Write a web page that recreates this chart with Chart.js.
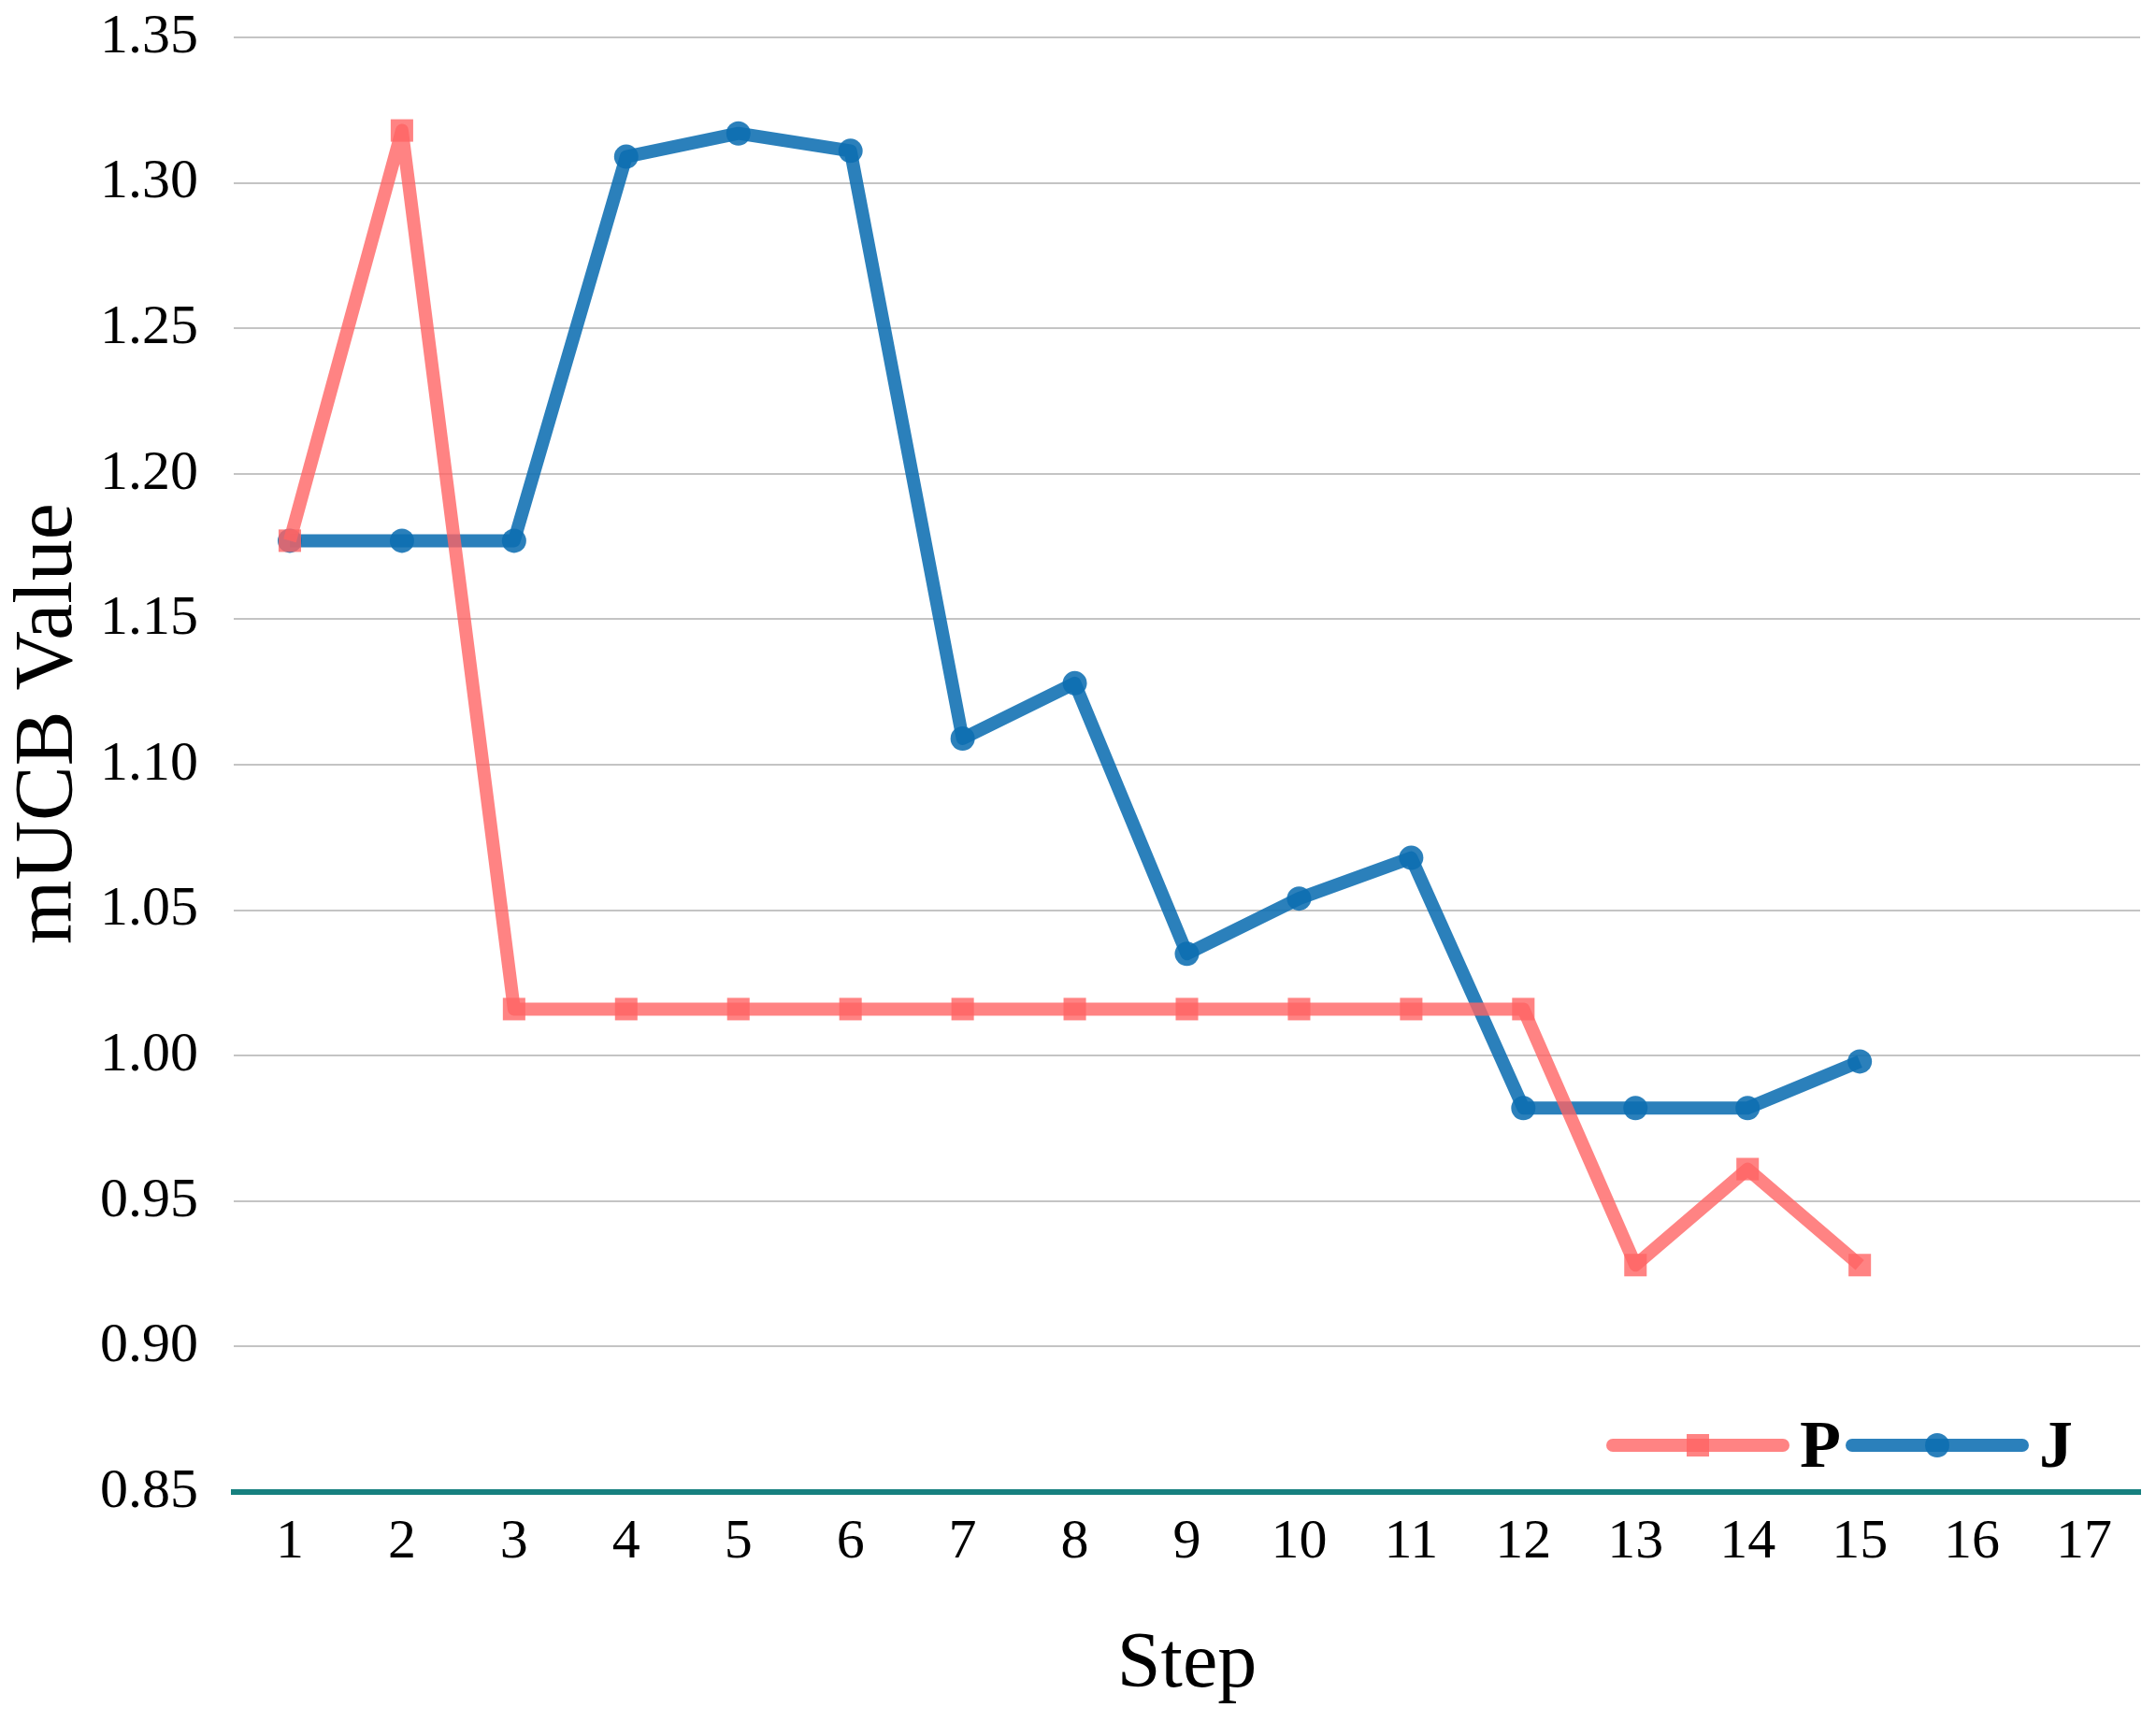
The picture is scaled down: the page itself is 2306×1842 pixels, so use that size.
<!DOCTYPE html>
<html>
<head>
<meta charset="utf-8">
<script src="https://cdn.jsdelivr.net/npm/chart.js@4/dist/chart.umd.min.js"></script>
<style>
  html, body { margin: 0; padding: 0; background: #fff; }
  #wrap { width: 2306px; height: 1842px; }
</style>
</head>
<body>
<div id="wrap"><canvas id="chart"></canvas></div>
<script>
var steps = ["1", "2", "3", "4", "5", "6", "7", "8", "9", "10", "11", "12", "13", "14", "15", "16", "17"];
var pValues = [1.177, 1.318, 1.016, 1.016, 1.016, 1.016, 1.016, 1.016, 1.016, 1.016, 1.016, 1.016, 0.928, 0.961, 0.928];
var jValues = [1.177, 1.177, 1.177, 1.309, 1.317, 1.311, 1.109, 1.128, 1.035, 1.054, 1.068, 0.982, 0.982, 0.982, 0.998];
var yTicks = [0.85, 0.90, 0.95, 1.00, 1.05, 1.10, 1.15, 1.20, 1.25, 1.30, 1.35];

var serif = '"Liberation Serif", "Times New Roman", serif';
var pLine = "rgba(255, 100, 100, 0.8)";
var jLine = "rgba(14, 110, 178, 0.88)";

// legend drawn inside the plot, bottom right, Excel style (line + marker + label)
var insideLegend = {
  id: "insideLegend",
  afterDraw: function (chart) {
    var ctx = chart.ctx;
    var area = chart.chartArea;
    var y = area.bottom - 50;
    var items = [
      { x: area.right - 564, label: "P", ds: 0 },
      { x: area.right - 308, label: "J", ds: 1 }
    ];
    ctx.save();
    items.forEach(function (it) {
      var ds = chart.data.datasets[it.ds];
      ctx.strokeStyle = ds.borderColor;
      ctx.lineWidth = 14;
      ctx.lineCap = "round";
      ctx.beginPath();
      ctx.moveTo(it.x, y);
      ctx.lineTo(it.x + 182, y);
      ctx.stroke();
      ctx.fillStyle = ds.pointBackgroundColor;
      Chart.helpers.drawPoint(ctx, {
        pointStyle: ds.pointStyle,
        radius: ds.pointRadius,
        borderWidth: 0
      }, it.x + 91, y);
      ctx.fillStyle = "#000";
      ctx.font = "bold 72px " + serif;
      ctx.textBaseline = "middle";
      ctx.textAlign = "left";
      ctx.fillText(it.label, it.x + 200, y + 4);
    });
    ctx.restore();
  }
};

new Chart(document.getElementById("chart"), {
  type: "line",
  data: {
    labels: steps,
    datasets: [
      {
        label: "P",
        data: pValues,
        borderColor: pLine,
        backgroundColor: pLine,
        pointBackgroundColor: pLine,
        borderWidth: 14,
        borderJoinStyle: "round",
        pointStyle: "rect",
        pointRadius: 17,
        pointBorderWidth: 0,
        tension: 0
      },
      {
        label: "J",
        data: jValues,
        borderColor: jLine,
        backgroundColor: jLine,
        pointBackgroundColor: jLine,
        borderWidth: 14,
        borderJoinStyle: "round",
        pointStyle: "circle",
        pointRadius: 13,
        pointBorderWidth: 0,
        tension: 0
      }
    ]
  },
  options: {
    responsive: true,
    maintainAspectRatio: false,
    animation: false,
    layout: { padding: { left: 0, right: 10, top: 40, bottom: 0 } },
    plugins: {
      legend: { display: false },
      tooltip: { enabled: false }
    },
    scales: {
      x: {
        offset: true,
        grid: { display: false, drawTicks: false },
        border: { display: true, color: "#16807f", width: 6 },
        ticks: {
          color: "#000",
          padding: 18,
          font: { family: serif, size: 60 }
        },
        title: {
          display: true,
          text: "Step",
          color: "#000",
          padding: { top: 0, bottom: 10 },
          font: { family: serif, size: 84 }
        },
        afterFit: function (scale) { scale.height = 246; }
      },
      y: {
        min: 0.85,
        max: 1.35,
        afterBuildTicks: function (scale) {
          scale.ticks = yTicks.map(function (v) { return { value: v }; });
        },
        grid: { color: "#c4c4c4", lineWidth: 2, drawTicks: false },
        border: { display: false },
        ticks: {
          color: "#000",
          padding: 38,
          font: { family: serif, size: 60 },
          callback: function (v) { return Number(v).toFixed(2); }
        },
        title: {
          display: true,
          // leading spaces nudge the rotated title up a little, as in the original
          text: "\u00a0\u00a0\u00a0\u00a0mUCB Value",
          color: "#000",
          padding: 0,
          font: { family: serif, size: 88 }
        },
        afterFit: function (scale) {
          scale.width = 250;
          scale.paddingTop = 0;
        }
      }
    }
  },
  plugins: [insideLegend]
});
</script>
</body>
</html>
